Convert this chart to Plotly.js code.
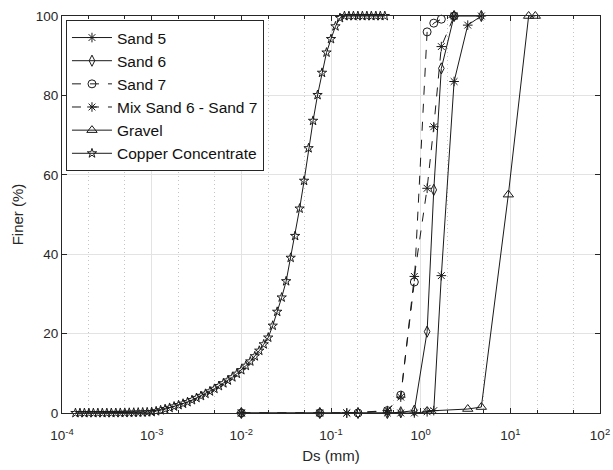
<!DOCTYPE html>
<html>
<head>
<meta charset="utf-8">
<script src="https://cdn.plot.ly/plotly-3.0.1.min.js"></script>
<style>html,body{margin:0;padding:0;background:#fff;}#chart{width:613px;height:470px;}</style>
</head>
<body>
<div id="chart"></div>
<script>
// ---- data (Ds in mm, Finer in %) ----
var sand5X = [0.01, 0.15, 0.425, 0.6, 0.85, 1.18, 1.4, 1.7, 2.36, 3.35, 4.75];
var sand5Y = [0, 0, 0, 0, 0, 0.3, 0.6, 34.6, 83.5, 97.7, 100];

var sand6X = [0.01, 0.075, 0.2, 0.425, 0.6, 0.85, 1.18, 1.4, 1.7, 2.36, 4.75];
var sand6Y = [0, 0, 0, 0, 0.2, 0.6, 20.5, 56.2, 86.8, 100, 100];

var sand7X = [0.01, 0.075, 0.2, 0.425, 0.6, 0.85, 1.18, 1.4, 1.7, 2.36];
var sand7Y = [0, 0, 0, 0.6, 4.5, 33, 96, 98.2, 99.2, 100];

var mixX = [0.01, 0.075, 0.15, 0.425, 0.6, 0.85, 1.18, 1.4, 1.7, 2.36];
var mixY = [0, 0, 0, 0.6, 4, 34.4, 56.6, 72.1, 92.3, 100];

var gravelX = [1.18, 3.35, 4.75, 9.5, 16, 19];
var gravelY = [0.5, 1.0, 1.5, 55, 100, 100];

var copperX = [
  1.413e-4, 1.585e-4, 1.778e-4, 1.995e-4, 2.239e-4, 2.512e-4, 2.818e-4, 3.162e-4, 3.548e-4,
  3.981e-4, 4.467e-4, 5.012e-4, 5.623e-4, 6.310e-4, 7.079e-4, 7.943e-4, 8.913e-4,
  0.001000, 0.001122, 0.001259, 0.001413, 0.001585, 0.001778, 0.001995, 0.002239, 0.002512, 0.002818,
  0.003162, 0.003548, 0.003981, 0.004467, 0.005012, 0.005623, 0.006310, 0.007079, 0.007943, 0.008913,
  0.01000, 0.01122, 0.01259, 0.01413, 0.01585, 0.01778, 0.01995, 0.02239, 0.02512, 0.02818,
  0.03162, 0.03548, 0.03981, 0.04467, 0.05012, 0.05623, 0.06310, 0.07079, 0.07943, 0.08913,
  0.1000, 0.1122, 0.1259, 0.1413, 0.1585, 0.1778, 0.1995, 0.2239, 0.2512, 0.2818, 0.3162, 0.3548, 0.3981
];
var copperY = [
  0, 0, 0, 0, 0, 0, 0, 0, 0.01,
  0.02, 0.03, 0.05, 0.07, 0.09, 0.12, 0.15, 0.19,
  0.25, 0.45, 0.7, 1.0, 1.3, 1.65, 2.0, 2.35, 2.75, 3.25,
  3.8, 4.3, 4.85, 5.45, 6.1, 6.8, 7.5, 8.2, 9.0, 9.9,
  10.8, 11.9, 13.0, 14.3, 15.7, 17.3, 19.0, 22.0, 25.5, 29.1,
  33.2, 39.1, 44.6, 51.5, 58.5, 66.7, 73.6, 80.1, 85.7, 90.8,
  94.2, 97.4, 99.5, 100, 100, 100, 100, 100, 100, 100, 100, 100, 100
];

var xTickVals = [1e-4, 1e-3, 1e-2, 1e-1, 1, 10, 100];
var xTickText = ['10<sup>-4</sup>', '10<sup>-3</sup>', '10<sup>-2</sup>', '10<sup>-1</sup>', '10<sup>0</sup>', '10<sup>1</sup>', '10<sup>2</sup>'];
var yTickVals = [0, 20, 40, 60, 80, 100];

// ---- styling ----
var ink = '#1a1a1a';
function tr(name, x, y, dash, symbol, size) {
  return {
    type: 'scatter', mode: 'lines+markers', name: name, x: x, y: y,
    line: {color: ink, width: 1, dash: dash},
    marker: {symbol: symbol, size: size, color: ink, line: {color: ink, width: 1}},
    cliponaxis: false
  };
}
var data = [
  tr('Sand 5', sand5X, sand5Y, 'solid', 'asterisk-open', 8),
  tr('Sand 6', sand6X, sand6Y, 'solid', 'diamond-tall-open', 8),
  tr('Sand 7', sand7X, sand7Y, 'dash', 'circle-open', 8),
  tr('Mix Sand 6 - Sand 7', mixX, mixY, 'dash', 'asterisk-open', 8),
  tr('Gravel', gravelX, gravelY, 'solid', 'triangle-up-open', 9),
  tr('Copper Concentrate', copperX, copperY, 'solid', 'star-open', 7)
];

var fontFam = 'Liberation Sans, Arial, sans-serif';
var layout = {
  width: 613, height: 470,
  margin: {l: 62, r: 13, t: 16, b: 57},
  paper_bgcolor: '#fff', plot_bgcolor: '#fff',
  font: {family: fontFam, color: '#262626', size: 14},
  showlegend: true,
  legend: {
    x: 0.0074, y: 0.99, xanchor: 'left', yanchor: 'top',
    bgcolor: '#fff', bordercolor: '#262626', borderwidth: 1,
    font: {family: fontFam, size: 15.5, color: '#111'},
    itemwidth: 40, tracegroupgap: 0
  },
  xaxis: {
    type: 'log', range: [-4, 2],
    tickvals: xTickVals, ticktext: xTickText,
    ticks: 'inside', ticklen: 5, tickcolor: '#262626',
    ticklabelstandoff: 10,
    showline: true, linecolor: '#262626', linewidth: 1, mirror: 'ticks',
    showgrid: true, gridcolor: '#e3e3e3', gridwidth: 1,
    zeroline: false,
    tickfont: {family: fontFam, size: 13.5, color: '#262626'},
    minor: {ticks: 'inside', ticklen: 3, tickcolor: '#262626', showgrid: true, gridcolor: '#c4c4c4', griddash: '1px,3px', gridwidth: 1},
    title: {text: 'Ds (mm)', font: {family: fontFam, size: 15, color: '#262626'}, standoff: 8}
  },
  yaxis: {
    range: [0, 100], tickvals: yTickVals,
    ticks: 'inside', ticklen: 5, tickcolor: '#262626',
    showline: true, linecolor: '#262626', linewidth: 1, mirror: 'ticks',
    showgrid: true, gridcolor: '#e3e3e3', gridwidth: 1,
    zeroline: false,
    tickfont: {family: fontFam, size: 13.5, color: '#262626'},
    title: {text: 'Finer (%)', font: {family: fontFam, size: 15, color: '#262626'}, standoff: 8}
  }
};
Plotly.newPlot('chart', data, layout, {displayModeBar: false, staticPlot: true});
</script>
</body>
</html>
